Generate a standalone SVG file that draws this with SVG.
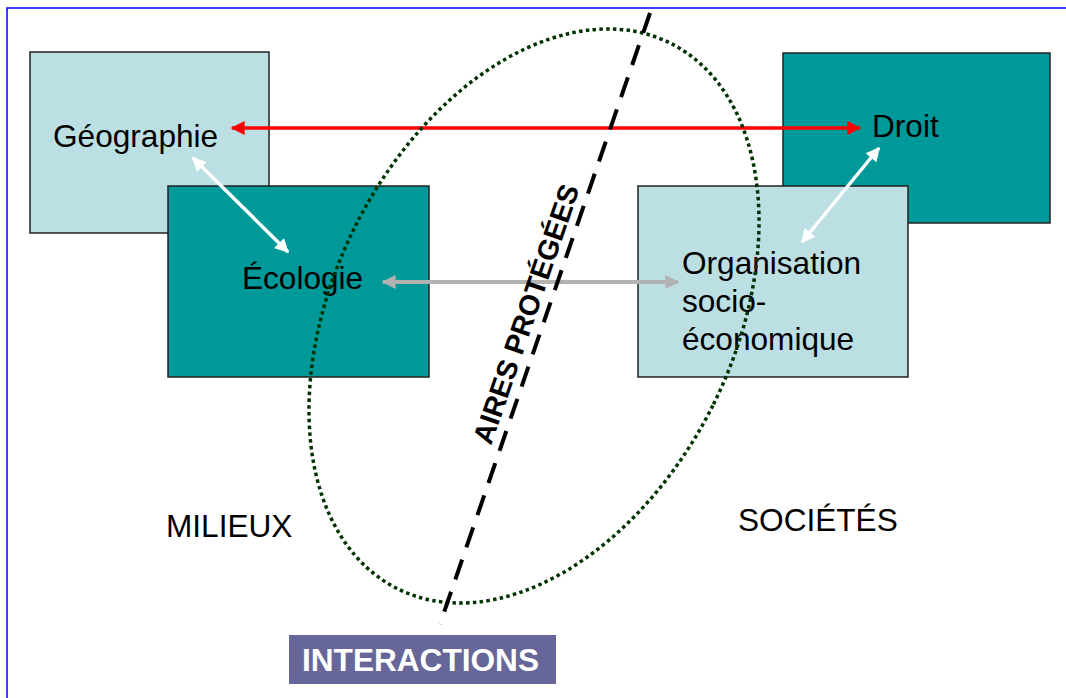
<svg xmlns="http://www.w3.org/2000/svg" width="1066" height="698" viewBox="0 0 1066 698">
<style>
.lbl{font-family:"Liberation Sans",Arial,sans-serif;font-size:31.6px;fill:#000}
.box{stroke:#222;stroke-width:1.5}
.light{fill:#bbdfe3}
.teal{fill:#009999}
</style>
<defs>
<marker id="hr" viewBox="0 0 10 10" refX="9" refY="5" markerWidth="18" markerHeight="14" markerUnits="userSpaceOnUse" orient="auto-start-reverse"><path d="M0,0 L10,5 L0,10 z" fill="#ff0000"/></marker>
<marker id="hw" viewBox="0 0 10 10" refX="9" refY="5" markerWidth="18" markerHeight="14" markerUnits="userSpaceOnUse" orient="auto-start-reverse"><path d="M0,0 L10,5 L0,10 z" fill="#ffffff"/></marker>
<marker id="hg" viewBox="0 0 10 10" refX="9" refY="5" markerWidth="18" markerHeight="14" markerUnits="userSpaceOnUse" orient="auto-start-reverse"><path d="M0,0 L10,5 L0,10 z" fill="#b2b2b2"/></marker>
</defs>
<rect width="1066" height="698" fill="#fff"/>
<path d="M7,698 V8 H1066" fill="none" stroke="#0000ff" stroke-width="1.5"/>
<g id="geographie"><rect class="box light" x="30" y="52" width="239" height="181"/><text class="lbl" x="53" y="147">Géographie</text></g>
<g id="droit"><rect class="box teal" x="783" y="53" width="267" height="170"/><text class="lbl" x="872" y="137">Droit</text></g>
<g id="ecologie"><rect class="box teal" x="168" y="186" width="261" height="191"/><text class="lbl" x="242" y="289">Écologie</text></g>
<g id="organisation"><rect class="box light" x="638" y="186" width="270" height="191"/><text class="lbl" x="682" y="274">Organisation</text><text class="lbl" x="682" y="312">socio-</text><text class="lbl" x="682" y="350">économique</text></g>
<g id="connectors">
<line x1="232" y1="128" x2="860" y2="128" stroke="#ff0000" stroke-width="3.5" marker-start="url(#hr)" marker-end="url(#hr)"/>
<line x1="193" y1="158" x2="288" y2="252" stroke="#ffffff" stroke-width="3.5" marker-start="url(#hw)" marker-end="url(#hw)"/>
<line x1="879" y1="148" x2="802" y2="242" stroke="#ffffff" stroke-width="3.5" marker-start="url(#hw)" marker-end="url(#hw)"/>
<line x1="383" y1="282" x2="678" y2="282" stroke="#b2b2b2" stroke-width="4" marker-start="url(#hg)" marker-end="url(#hg)"/>
</g>
<g id="aires">
<ellipse cx="534" cy="316" rx="200" ry="305" transform="rotate(26.6 534 316)" fill="none" stroke="#003300" stroke-width="3.5" stroke-dasharray="3.5 3.3"/>
<line x1="650" y1="13" x2="440" y2="624" stroke="#000" stroke-width="4" stroke-dasharray="21 13"/>
<text transform="translate(526,314) rotate(-71)" y="10" text-anchor="middle" style="font-family:'Liberation Sans',Arial,sans-serif;font-size:28.5px;font-weight:bold;fill:#000">AIRES PROTÉGÉES</text>
</g>
<g id="milieux"><text class="lbl" x="166" y="537">MILIEUX</text></g>
<g id="societes"><text class="lbl" x="738" y="531">SOCIÉTÉS</text></g>
<g id="interactions"><rect x="289" y="635" width="267" height="49" fill="#666699"/><text x="302" y="671" style="font-family:'Liberation Sans',Arial,sans-serif;font-size:31.6px;font-weight:bold;fill:#fff">INTERACTIONS</text></g>
</svg>
